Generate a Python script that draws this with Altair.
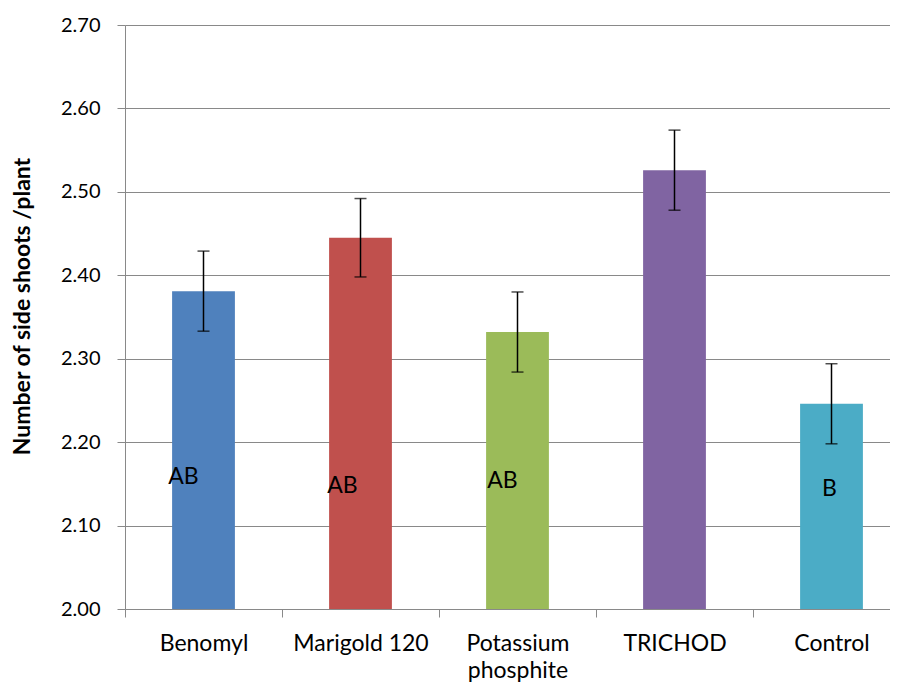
import altair as alt
import pandas as pd

categories = ["Benomyl", "Marigold 120", "Potassium phosphite", "TRICHOD", "Control"]
means = [2.381, 2.445, 2.332, 2.526, 2.246]
errors = [0.048, 0.047, 0.048, 0.048, 0.048]
letters = ["AB", "AB", "AB", "", "B"]
letter_y = [2.158, 2.148, 2.153, 2.15, 2.144]
colors = ["#4F81BD", "#C0504D", "#9BBB59", "#8064A2", "#4BACC6"]
letter_dx = [-20, -18, -15, 0, -2]

FONT = "Lato"
GRAY = "#898989"

df = pd.DataFrame({"cat": categories, "mean": means, "err": errors,
                   "letter": letters, "ly": letter_y})
df["lo"] = df["mean"] - df["err"]
df["hi"] = df["mean"] + df["err"]

xscale = alt.Scale(domain=categories, range=[0, 785], paddingInner=0, paddingOuter=0)
xenc = alt.X(
    "cat:N", sort=categories, scale=xscale,
    axis=alt.Axis(
        title=None, tickBand="extent", labelAngle=0,
        labelExpr="datum.label == 'Potassium phosphite' ? ['Potassium', 'phosphite'] : datum.label",
        labelFont=FONT, labelFontSize=23, labelColor="black", labelPadding=15,
        labelLineHeight=27, tickColor=GRAY, tickSize=8, tickWidth=1,
        domainColor=GRAY, domainWidth=1, grid=False,
    ),
)
yscale = alt.Scale(domain=[2.0, 2.7], nice=False, zero=False)
yenc = alt.Y(
    "mean:Q", scale=yscale,
    axis=alt.Axis(
        title="Number of side shoots /plant",
        values=[2.0, 2.1, 2.2, 2.3, 2.4, 2.5, 2.6, 2.7], format=".2f",
        labelFont=FONT, labelFontSize=20, labelColor="black", labelPadding=17,
        tickColor=GRAY, tickSize=8, tickWidth=1, domainColor=GRAY, domainWidth=1,
        grid=True, gridColor=GRAY, gridWidth=1,
        titleFont=FONT, titleFontSize=23, titleFontWeight="bold", titleColor="black",
        titleX=-103, titleY=281, titleAngle=-90, titleAlign="center", titleBaseline="middle",
    ),
)

base = alt.Chart(df)

bars = base.mark_bar(width=alt.RelativeBandSize(0.4)).encode(
    x=xenc, y=yenc, y2=alt.datum(2.0),
    color=alt.Color("cat:N", scale=alt.Scale(domain=categories, range=colors), legend=None),
)

rules = base.mark_rule(color="black", strokeWidth=1.5).encode(
    x=alt.X("cat:N", sort=categories), y=alt.Y("lo:Q"), y2="hi:Q"
)
cap_lo = base.mark_tick(color="black", thickness=1.5, size=12).encode(
    x=alt.X("cat:N", sort=categories), y=alt.Y("lo:Q")
)
cap_hi = base.mark_tick(color="black", thickness=1.5, size=12).encode(
    x=alt.X("cat:N", sort=categories), y=alt.Y("hi:Q")
)

layers = [bars, rules, cap_lo, cap_hi]
for i, lt in enumerate(letters):
    if lt:
        layers.append(
            alt.Chart(df.iloc[[i]]).mark_text(
                dx=letter_dx[i], font=FONT, fontSize=23, color="black", baseline="middle"
            ).encode(x=alt.X("cat:N", sort=categories), y=alt.Y("ly:Q"), text="letter:N")
        )

chart = alt.layer(*layers).properties(
    width=765, height=584,
    autosize=alt.AutoSizeParams(type="none"),
    padding={"left": 117, "top": 17, "right": 0, "bottom": 76},
    background="white",
).configure_view(stroke=None)

chart.save("out.html", embed_options={"renderer": "svg", "actions": False})
